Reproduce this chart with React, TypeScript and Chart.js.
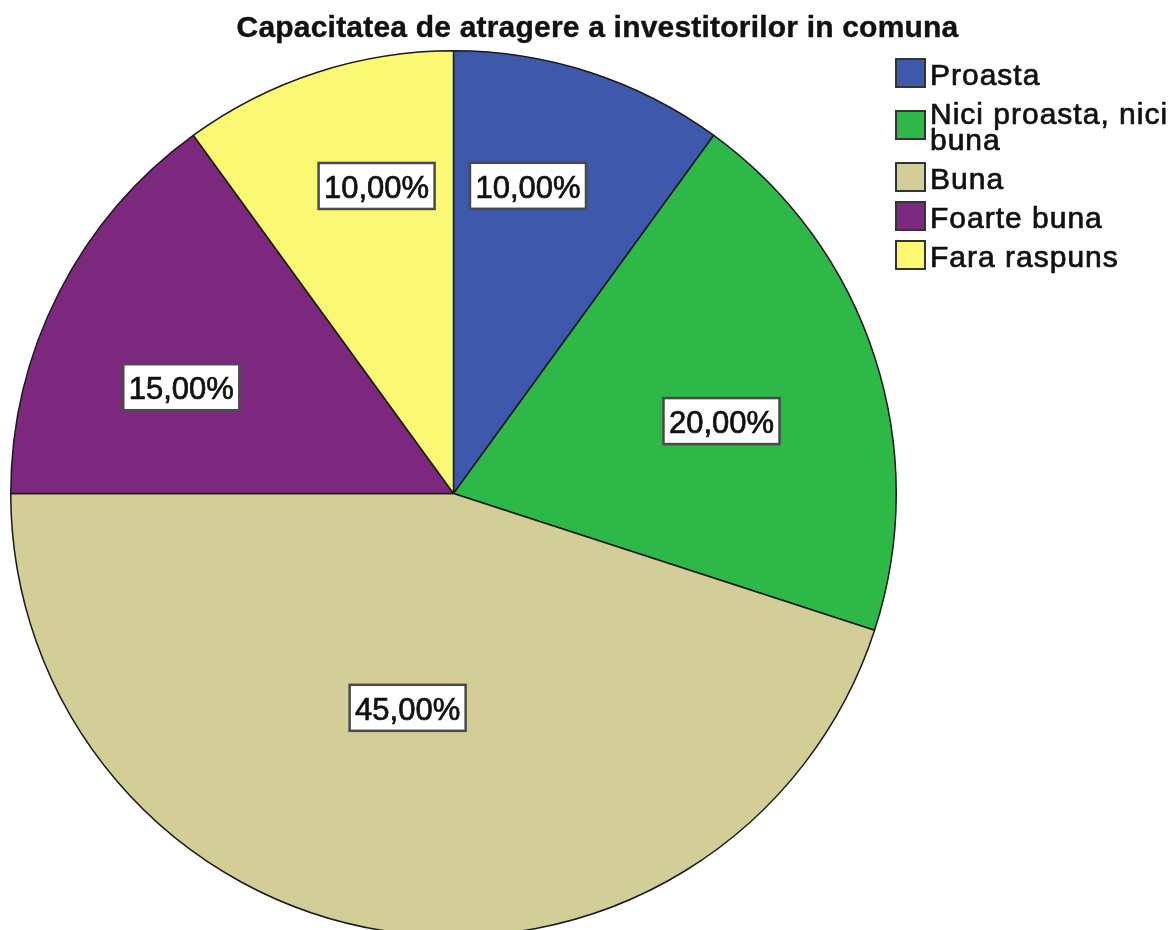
import React, { useEffect, useRef } from "react";
import { Chart, registerables } from "chart.js";

Chart.register(...registerables);

const chartTitle = "Capacitatea de atragere a investitorilor in comuna";
const categories = ["Proasta", "Nici proasta, nici buna", "Buna", "Foarte buna", "Fara raspuns"];
const percentages = [10, 20, 45, 15, 10];
const sliceColors = ["#3E58AC", "#2EB848", "#D3CE97", "#7B287E", "#FBF873"];

// label placement within each slice: fraction along the arc angle, fraction of radius
const labelAngleFrac = [0.378, 0.54, 0.519, 0.395, 0.61];
const labelRadiusFrac = [0.715, 0.627, 0.495, 0.66, 0.716];

const FONT = "Arial, 'Liberation Sans', sans-serif";

const formatPct = (v: number) => v.toFixed(2).replace(".", ",") + "%";

const heavyText = (ctx: CanvasRenderingContext2D, t: string, x: number, y: number, sw: number) => {
  ctx.fillText(t, x, y);
  if (sw > 0) {
    ctx.lineWidth = sw;
    ctx.strokeStyle = ctx.fillStyle as string;
    ctx.strokeText(t, x, y);
  }
};

const overlayPlugin = {
  id: "overlay",
  afterDatasetsDraw(chart: any) {
    const ctx: CanvasRenderingContext2D = chart.ctx;
    const meta = chart.getDatasetMeta(0);
    ctx.save();
    meta.data.forEach((arc: any, i: number) => {
      const p = arc.getProps(["x", "y", "startAngle", "endAngle", "outerRadius"], true);
      const a = p.startAngle + labelAngleFrac[i] * (p.endAngle - p.startAngle);
      const r = p.outerRadius * labelRadiusFrac[i];
      const cx = p.x + Math.cos(a) * r;
      const cy = p.y + Math.sin(a) * r;
      const text = formatPct(percentages[i]);
      ctx.font = `31px ${FONT}`;
      const w = 116;
      const h = 46;
      ctx.fillStyle = "#ffffff";
      ctx.fillRect(cx - w / 2, cy - h / 2, w, h);
      ctx.lineWidth = 2.5;
      ctx.strokeStyle = "#4a4a4a";
      ctx.strokeRect(cx - w / 2, cy - h / 2, w, h);
      ctx.fillStyle = "#111111";
      ctx.textAlign = "center";
      ctx.textBaseline = "alphabetic";
      heavyText(ctx, text, cx, cy + 12, 0.7);
    });
    ctx.restore();
  },
  afterDraw(chart: any) {
    const ctx: CanvasRenderingContext2D = chart.ctx;
    ctx.save();
    // title
    ctx.font = `bold 30px ${FONT}`;
    (ctx as any).letterSpacing = "0.2px";
    ctx.fillStyle = "#111111";
    ctx.textAlign = "center";
    ctx.textBaseline = "alphabetic";
    heavyText(ctx, chartTitle, 597.5, 37, 0.4);

    // legend
    ctx.font = `30px ${FONT}`;
    (ctx as any).letterSpacing = "1px";
    ctx.textAlign = "left";
    const maxW = 250;
    let baseline = 85;
    categories.forEach((label, i) => {
      const words = label.split(" ");
      const lines: string[] = [];
      let cur = "";
      words.forEach((wd) => {
        const test = cur ? cur + " " + wd : wd;
        if (ctx.measureText(test).width > maxW && cur) {
          lines.push(cur);
          cur = wd;
        } else cur = test;
      });
      if (cur) lines.push(cur);
      const first = baseline;
      lines.forEach((ln, k) => {
        ctx.fillStyle = "#111111";
        heavyText(ctx, ln, 930, baseline, 0.7);
        if (k < lines.length - 1) baseline += 26;
      });
      const last = baseline;
      const sc = (first + last) / 2 - 12;
      ctx.fillStyle = sliceColors[i];
      ctx.fillRect(896, sc - 14, 29, 28);
      ctx.lineWidth = 2;
      ctx.strokeStyle = "#333333";
      ctx.strokeRect(896, sc - 14, 29, 28);
      baseline += 39;
    });
    ctx.restore();
  },
};

export default function App() {
  const ref = useRef<HTMLCanvasElement | null>(null);
  useEffect(() => {
    if (!ref.current) return;
    const chart = new Chart(ref.current, {
      type: "pie",
      data: {
        labels: categories,
        datasets: [
          {
            data: percentages,
            backgroundColor: sliceColors,
            borderColor: "#1a1a1a",
            borderWidth: 1.5,
          },
        ],
      },
      options: {
        responsive: false,
        animation: false,
        layout: { padding: { left: 10, top: 50, right: 278, bottom: 63 } },
        plugins: {
          legend: { display: false },
          title: { display: false },
          tooltip: { enabled: false },
        },
      },
      plugins: [overlayPlugin],
    });
    return () => chart.destroy();
  }, []);
  return (
    <div
      style={{
        position: "fixed",
        left: 0,
        top: 0,
        width: 1175,
        height: 930,
        overflow: "hidden",
        background: "#ffffff",
      }}
    >
      <canvas ref={ref} width={1175} height={1000} style={{ width: 1175, height: 1000, display: "block" }} />
    </div>
  );
}
